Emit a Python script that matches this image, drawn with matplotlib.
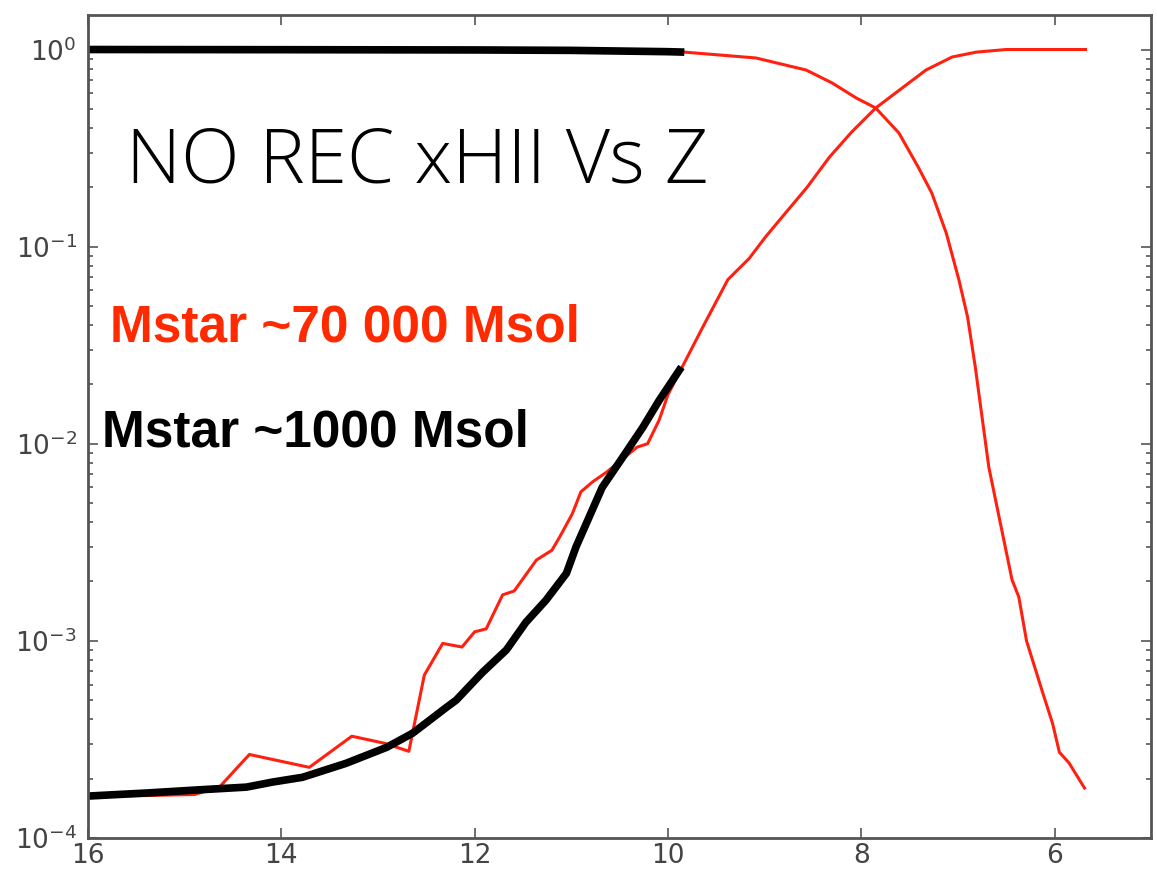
import numpy as np
import matplotlib
matplotlib.use("Agg")
import matplotlib.pyplot as plt
from matplotlib.ticker import MultipleLocator, LogLocator

# %% data (redshift z, ionised fraction xHII)
z_rise_big = [16.0, 15.4, 14.9, 14.64, 14.33, 13.71, 13.27, 12.93, 12.68, 12.52, 12.33,
              12.13, 12.0, 11.88, 11.71, 11.59, 11.36, 11.2, 11.12, 10.99, 10.9, 10.78,
              10.63, 10.32, 10.21, 10.09, 10.0, 9.85, 9.64, 9.38, 9.16, 8.99, 8.82,
              8.56, 8.33, 8.1, 7.85, 7.61, 7.33, 7.06, 6.81, 6.5, 5.68]
x_rise_big = [1.63e-4, 1.64e-4, 1.66e-4, 1.81e-4, 2.65e-4, 2.28e-4, 3.28e-4, 3.02e-4, 2.75e-4,
              6.7e-4, 9.7e-4, 9.3e-4, 1.11e-3, 1.15e-3, 1.71e-3, 1.79e-3, 2.57e-3, 2.88e-3,
              3.36e-3, 4.4e-3, 5.7e-3, 6.4e-3, 7.2e-3, 9.6e-3, 1.0e-2, 1.32e-2, 1.77e-2,
              2.46e-2, 3.9e-2, 6.8e-2, 8.7e-2, 0.112, 0.141, 0.20, 0.284, 0.381, 0.505,
              0.62, 0.787, 0.916, 0.97, 1.0, 1.0]

z_fall_big = [16.0, 12.0, 10.0, 9.83, 9.09, 8.57, 8.3, 8.05, 7.85, 7.61, 7.41, 7.27, 7.12,
              6.99, 6.9, 6.82, 6.68, 6.44, 6.37, 6.29, 6.13, 6.02, 5.95, 5.85, 5.69]
x_fall_big = [1.0, 0.995, 0.975, 0.97, 0.906, 0.787, 0.676, 0.567, 0.505, 0.377, 0.253,
              0.187, 0.117, 0.068, 0.044, 2.45e-2, 7.6e-3, 2.04e-3, 1.67e-3, 1.0e-3,
              5.6e-4, 3.8e-4, 2.72e-4, 2.4e-4, 1.79e-4]

z_rise_small = [16.0, 15.39, 14.88, 14.36, 14.09, 13.78, 13.33, 12.91, 12.64, 12.29, 12.19,
                11.92, 11.67, 11.47, 11.26, 11.05, 10.95, 10.68, 10.47, 10.26, 10.09, 9.86]
x_rise_small = [1.63e-4, 1.69e-4, 1.75e-4, 1.81e-4, 1.92e-4, 2.03e-4, 2.39e-4, 2.88e-4,
                3.4e-4, 4.6e-4, 5.0e-4, 6.9e-4, 9.0e-4, 1.24e-3, 1.61e-3, 2.2e-3, 3.0e-3,
                6.0e-3, 8.5e-3, 1.21e-2, 1.66e-2, 2.45e-2]

z_fall_small = [16.0, 14.0, 12.0, 11.0, 10.0, 9.83]
x_fall_small = [1.0, 0.998, 0.995, 0.99, 0.975, 0.97]

# %% figure
fig = plt.figure(figsize=(11.57, 8.71), dpi=100)
ax = fig.add_axes([0.076, 0.038, 0.919, 0.945])

red_line = "#ff2010"
ax.plot(z_rise_big, x_rise_big, c=red_line, lw=2.2)
ax.plot(z_fall_big, x_fall_big, c=red_line, lw=2.2)
ax.plot(z_rise_small, x_rise_small, c="k", lw=5.5, solid_capstyle="butt")
ax.plot(z_fall_small, x_fall_small, c="k", lw=5.5, solid_capstyle="butt")

ax.set_yscale("log")
ax.set_xlim(16, 5)
ax.set_ylim(1e-4, 1.5)
ax.xaxis.set_major_locator(MultipleLocator(2))
ax.yaxis.set_major_locator(LogLocator(base=10, numticks=10))

ax.tick_params(which="both", direction="in", top=True, right=True,
               colors="#555555", labelcolor="#444444", labelsize=19, width=1.2)
ax.tick_params(which="major", length=7, pad=4)
ax.tick_params(axis="y", which="major", pad=8)
ax.tick_params(which="minor", length=3.5)
ax.tick_params(axis="x", which="minor", bottom=False, top=False)
for s in ax.spines.values():
    s.set_color("#555555")
    s.set_linewidth(2)

# overlay texts
ax.text(0.036, 0.796, "NO REC xHII Vs Z", transform=ax.transAxes, fontsize=55,
        family="Open Sans", fontweight="light", color="k", va="baseline")
ax.text(0.021, 0.603, "Mstar ~70 000 Msol", transform=ax.transAxes, fontsize=37,
        family="Liberation Sans", fontweight="bold", color="#ff2a00", va="baseline")
ax.text(0.013, 0.475, "Mstar ~1000 Msol", transform=ax.transAxes, fontsize=37,
        family="Liberation Sans", fontweight="bold", color="k", va="baseline")

fig.savefig("out.png", dpi=100, facecolor="white")
